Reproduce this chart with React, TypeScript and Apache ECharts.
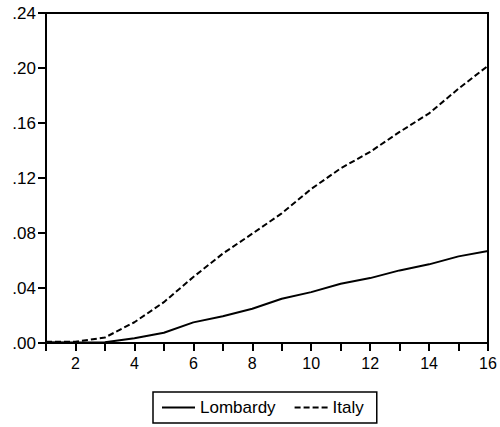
import React, { useEffect, useRef } from "react";
import * as echarts from "echarts";

const periods = [1, 2, 3, 4, 5, 6, 7, 8, 9, 10, 11, 12, 13, 14, 15, 16];
const lombardy = [0.0006, 0.0004, 0.0006, 0.0035, 0.0075, 0.015, 0.0195, 0.0249, 0.0322, 0.037, 0.0431, 0.0472, 0.0528, 0.0572, 0.063, 0.0669];
const italy = [0.001, 0.001, 0.004, 0.0151, 0.0297, 0.048, 0.065, 0.0795, 0.0943, 0.112, 0.127, 0.139, 0.1535, 0.167, 0.185, 0.2016];
const seriesNames = ["Lombardy", "Italy"];

export default function App() {
  const ref = useRef<HTMLDivElement>(null);
  useEffect(() => {
    if (!ref.current) return;
    const chart = echarts.init(ref.current, undefined, { renderer: "svg" });
    const font = "'Liberation Sans', Arial, sans-serif";
    chart.setOption({
      animation: false,
      backgroundColor: "#ffffff",
      grid: {
        left: 46,
        top: 13,
        right: 12,
        bottom: 84,
        show: true,
        borderColor: "#000",
        borderWidth: 2,
      },
      xAxis: {
        type: "value",
        min: 1,
        max: 16,
        interval: 1,
        axisLine: { show: true, onZero: false, lineStyle: { color: "#000", width: 2 } },
        axisTick: { show: true, length: 8, lineStyle: { color: "#000", width: 2 } },
        axisLabel: {
          margin: 12,
          color: "#000",
          fontFamily: font,
          fontSize: 16,
          formatter: (v: number) => (v % 2 === 0 ? String(v) : ""),
        },
        splitLine: { show: false },
      },
      yAxis: {
        type: "value",
        min: 0,
        max: 0.24,
        interval: 0.04,
        axisLine: { show: true, lineStyle: { color: "#000", width: 2 } },
        axisTick: { show: true, length: 8, lineStyle: { color: "#000", width: 2 } },
        axisLabel: {
          margin: 10,
          color: "#000",
          fontFamily: font,
          fontSize: 17,
          formatter: (v: number) => v.toFixed(2).replace(/^0/, ""),
        },
        splitLine: { show: false },
      },
      legend: {
        left: 153,
        top: 392,
        padding: [7, 13, 7, 8],
        borderColor: "#000",
        borderWidth: 1.5,
        itemWidth: 33,
        itemHeight: 15,
        itemGap: 18,
        itemStyle: { opacity: 0 },
        textStyle: { color: "#000", fontFamily: font, fontSize: 17 },
        data: seriesNames,
      },
      series: [
        {
          name: seriesNames[0],
          type: "line",
          symbol: "none",
          data: periods.map((p, i) => [p, lombardy[i]]),
          lineStyle: { color: "#000", width: 2, type: "solid" },
          itemStyle: { color: "#000" },
        },
        {
          name: seriesNames[1],
          type: "line",
          symbol: "none",
          data: periods.map((p, i) => [p, italy[i]]),
          lineStyle: { color: "#000", width: 2, type: [6, 3] },
          itemStyle: { color: "#000" },
        },
      ],
    });
    return () => chart.dispose();
  }, []);
  return <div ref={ref} style={{ width: 500, height: 427, position: "absolute", left: 0, top: 0 }} />;
}
